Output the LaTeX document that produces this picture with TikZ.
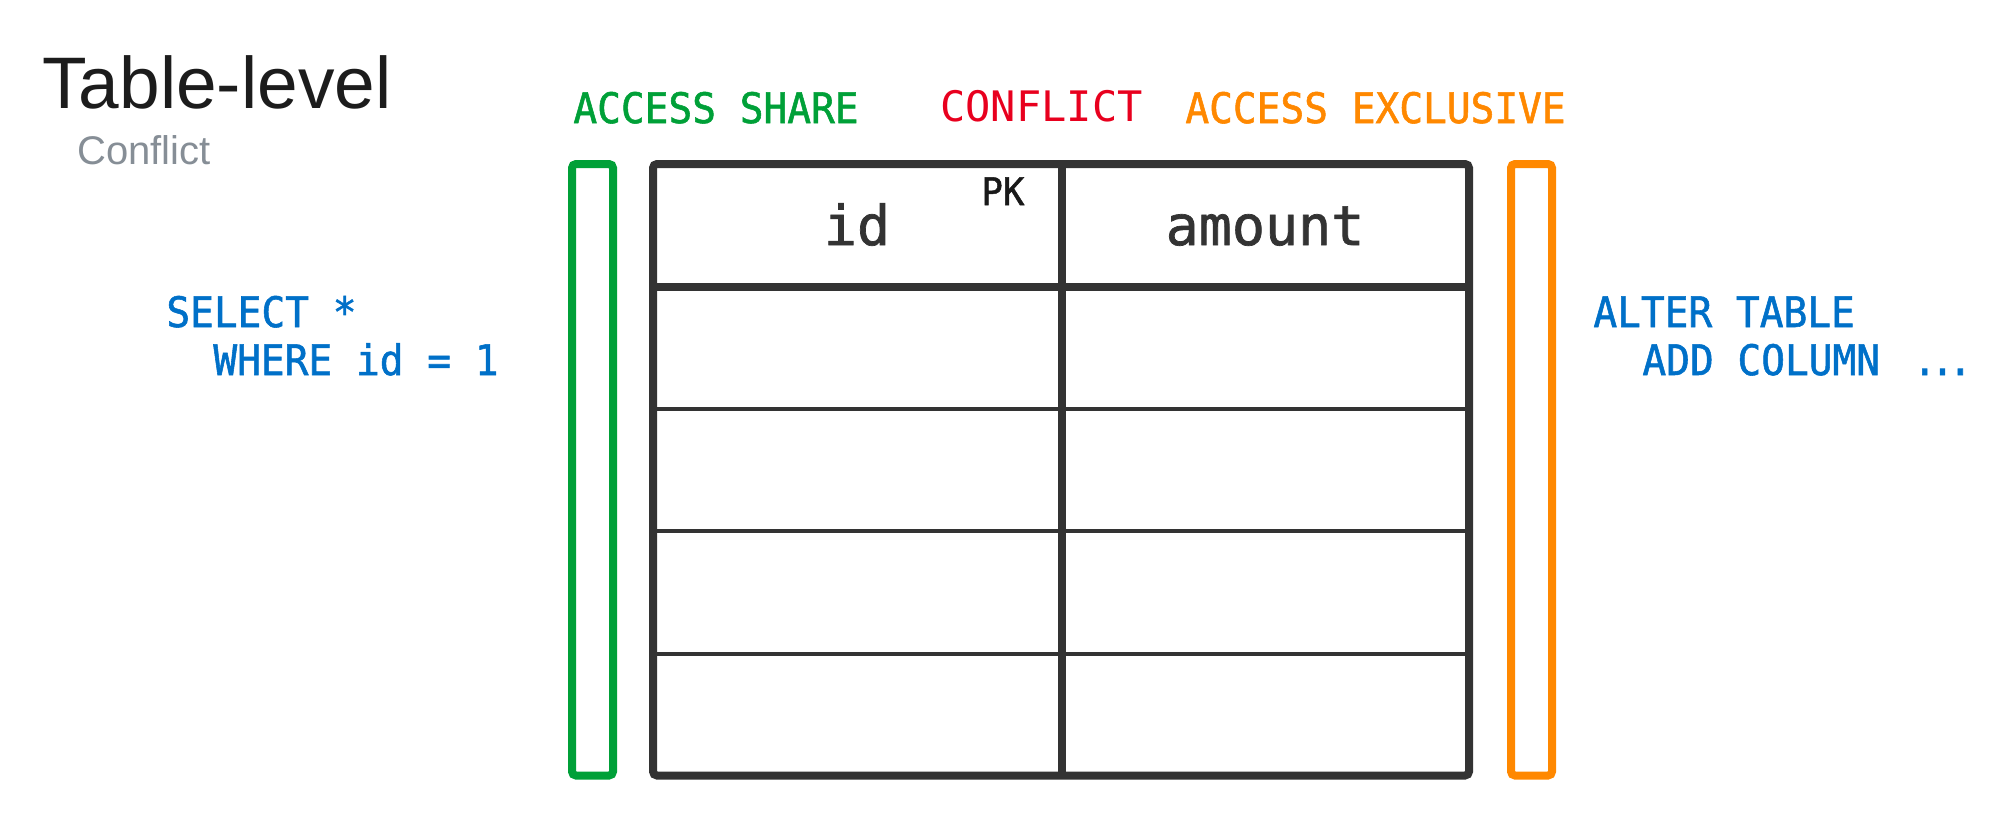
\documentclass[tikz,border=0pt]{standalone}
\usepackage{fontspec}
\setmainfont{Liberation Sans}
\setmonofont{DejaVu Sans Mono}
\newfontfamily\lblfont[FakeStretch=0.94, FakeBold=1.3]{DejaVu Sans Mono}
\newfontfamily\monobold[FakeBold=1.3]{DejaVu Sans Mono}
\definecolor{lkgreen}{RGB}{0,160,56}
\definecolor{lkred}{RGB}{232,0,30}
\definecolor{lkorange}{RGB}{255,136,0}
\definecolor{lkblue}{RGB}{0,112,200}
\definecolor{tbldark}{RGB}{51,51,51}
\definecolor{ttldark}{RGB}{28,28,28}
\definecolor{subgray}{RGB}{134,142,150}
\tikzset{
  lbl/.style={inner sep=0pt, anchor=base west, font=\lblfont\fontsize{21}{24}\selectfont},
  hdr/.style={inner sep=0pt, anchor=base, text=tbldark, font=\monobold\fontsize{27.5}{32}\selectfont},
  tblline/.style={draw=tbldark, line width=4pt},
  rowline/.style={draw=tbldark, line width=2pt},
  lockbar/.style={line width=4pt, rounded corners=2pt}
}
\begin{document}
\begin{tikzpicture}[x=0.5pt, y=-0.5pt]
\useasboundingbox (0,0) rectangle (2000,816);
% titles
\node[inner sep=0pt, anchor=base west, text=ttldark, font=\fontsize{36.5}{40}\selectfont] (title) at (42,108) {Table-level};
\node[inner sep=0pt, anchor=base west, text=subgray, font=\fontsize{20}{24}\selectfont] (subtitle) at (77,164) {Conflict};
% lock labels
\node[lbl, text=lkgreen] (share) at (573,123) {ACCESS SHARE};
\node[inner sep=0pt, anchor=base west, text=lkred, font=\ttfamily\fontsize{21}{24}\selectfont] (conflict) at (940,121) {CONFLICT};
\node[lbl, text=lkorange] (excl) at (1185,123) {ACCESS EXCLUSIVE};
% queries
\node[lbl, text=lkblue] (sel1) at (166,327) {SELECT *};
\node[lbl, text=lkblue] (sel2) at (213,375) {WHERE id = 1};
\node[lbl, text=lkblue] (alt1) at (1593,327) {ALTER TABLE};
\node[lbl, text=lkblue] (alt2) at (1642,375) {ADD COLUMN \kern4.5pt.\kern-3pt.\kern-3pt.};
% lock bars
\draw[lockbar, draw=lkgreen] (572,164) rectangle (613,775.5);
\draw[lockbar, draw=lkorange] (1511,164) rectangle (1552,775.5);
% table
\draw[rowline] (653,408.5) -- (1469,408.5);
\draw[rowline] (653,531) -- (1469,531);
\draw[rowline] (653,653.5) -- (1469,653.5);
\draw[tblline] (653,287) -- (1469,287);
\draw[tblline] (1061.5,164) -- (1061.5,775.5);
\draw[tblline, rounded corners=2pt] (653,164) rectangle (1469,775.5);
% header
\node[hdr] (colid) at (857,245) {id};
\node[hdr] (colamount) at (1265,245) {amount};
\node[inner sep=0pt, anchor=base west, text=black!90, font=\lblfont\fontsize{19}{20}\selectfont] (pk) at (981,205) {PK};
\end{tikzpicture}
\end{document}
